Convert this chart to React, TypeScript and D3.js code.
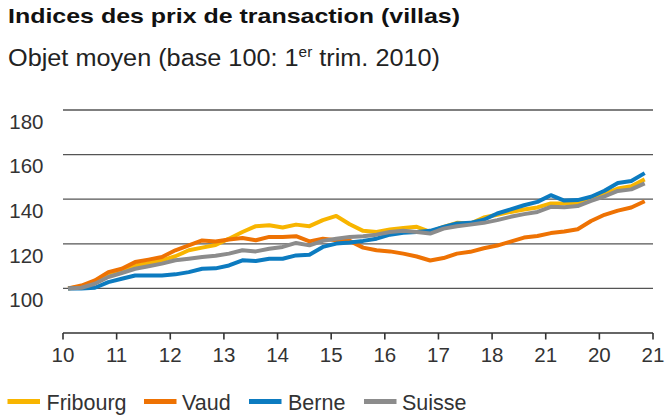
import React from "react";
import * as d3 from "d3";

const title = "Indices des prix de transaction (villas)";
const yearLabels = ["10", "11", "12", "13", "14", "15", "16", "17", "18", "21", "20", "21"];
const yTicks = [100, 120, 140, 160, 180];

const fribourg = [
  100, 100.9, 102.4, 105.8, 108.1, 110.3, 111.4, 112.6, 114.4, 117.1, 118.3, 119.5,
  122.3, 125.3, 127.9, 128.3, 127.3, 128.6, 127.9, 130.6, 132.5, 128.8, 125.8, 125.3,
  126.4, 127.1, 127.6, 125.3, 127.6, 129.4, 129.1, 131.8, 133.0, 134.3, 135.4, 136.3,
  138.1, 138.1, 138.3, 140.3, 142.5, 144.8, 145.8, 148.9,
];
const vaud = [
  100, 101.3, 103.6, 107.3, 108.8, 111.8, 112.9, 114.1, 117.1, 119.3, 121.5, 121.0,
  121.9, 122.6, 121.6, 123.1, 123.1, 123.4, 121.1, 122.3, 121.6, 121.3, 118.3, 117.1,
  116.6, 115.6, 114.3, 112.5, 113.6, 115.6, 116.4, 118.0, 119.2, 121.0, 122.8, 123.5,
  124.8, 125.5, 126.5, 130.2, 133.0, 134.9, 136.3, 139.1,
];
const berne = [
  100, 100, 100.3, 102.8, 104.3, 105.8, 105.8, 105.8, 106.3, 107.3, 108.8, 109.0,
  110.3, 112.6, 112.3, 113.3, 113.3, 114.8, 115.1, 118.6, 120.1, 120.6, 121.3, 122.3,
  124.1, 124.9, 125.3, 125.8, 127.6, 129.1, 129.4, 130.8, 133.6, 135.4, 137.3, 138.8,
  141.8, 139.4, 139.6, 141.1, 143.8, 147.3, 148.2, 151.7,
];
const suisse = [
  100, 100.3, 102.1, 105.1, 106.9, 108.8, 109.9, 111.1, 112.6, 113.3, 114.1, 114.6,
  115.6, 117.1, 116.6, 117.8, 118.6, 120.4, 119.3, 121.3, 122.3, 123.1, 123.4, 124.1,
  125.3, 125.8, 125.3, 124.6, 126.8, 127.9, 128.6, 129.4, 130.6, 132.1, 133.3, 134.3,
  136.6, 136.4, 136.9, 139.2, 141.3, 143.7, 144.4, 147.1,
];

const seriesNames = ["Fribourg", "Vaud", "Berne", "Suisse"];
const seriesValues = [fribourg, vaud, berne, suisse];
const seriesColors = ["#F8B500", "#EE7203", "#0C7BC0", "#8C8C8C"];

const W = 665;
const H = 418;
const FONT = "'Liberation Sans', Arial, Helvetica, sans-serif";

export default function App() {
  const x = d3.scaleLinear().domain([2010, 2021]).range([63, 653]);
  const y = d3.scaleLinear().domain([80, 180]).range([333, 110]);
  const t = (i: number) => 2010.095 + i * 0.25;
  const line = d3
    .line<number>()
    .x((_, i) => x(t(i)))
    .y((v) => y(v))
    .curve(d3.curveLinear);

  const xTicks = d3.range(2010, 2022);
  const legendX = [7.5, 144, 249, 364];
  const legendTextX = [46.5, 182, 288, 402];

  return (
    <svg
      width={W}
      height={H}
      style={{ position: "absolute", left: 0, top: 0, background: "#fff" }}
      fontFamily={FONT}
    >
      <text x={8} y={23.3} fontSize={21} fontWeight="bold" fill="#111" textLength={452} lengthAdjust="spacingAndGlyphs">
        {title}
      </text>
      <text x={8} y={66} fontSize={23} fill="#222" textLength={432} lengthAdjust="spacingAndGlyphs">
        Objet moyen (base 100: 1
        <tspan fontSize={14} dy={-9}>er</tspan>
        <tspan dy={9}> trim. 2010)</tspan>
      </text>

      {yTicks.map((v) => (
        <g key={v}>
          <line x1={63} x2={653} y1={y(v)} y2={y(v)} stroke="#555" strokeWidth={1.3} />
          <text x={43.5} y={y(v) + 18.7} fontSize={20.5} textAnchor="end" fill="#333">
            {v}
          </text>
        </g>
      ))}

      <line x1={63} x2={653} y1={y(80)} y2={y(80)} stroke="#333" strokeWidth={1.6} />
      {xTicks.map((v, i) => (
        <g key={v}>
          <line x1={x(v)} x2={x(v)} y1={y(80)} y2={y(80) + 6.5} stroke="#333" strokeWidth={1.6} />
          <text x={x(v)} y={362} fontSize={20.5} textAnchor="middle" fill="#333">
            {yearLabels[i]}
          </text>
        </g>
      ))}

      {seriesValues.map((vals, k) => (
        <path
          key={seriesNames[k]}
          d={line(vals) || ""}
          fill="none"
          stroke={seriesColors[k]}
          strokeWidth={4}
          strokeLinejoin="round"
        />
      ))}

      {seriesNames.map((name, k) => (
        <g key={name}>
          <line
            x1={legendX[k]}
            x2={legendX[k] + 32.5}
            y1={401.5}
            y2={401.5}
            stroke={seriesColors[k]}
            strokeWidth={5}
          />
          <text x={legendTextX[k]} y={410} fontSize={21.5} fill="#333">
            {name}
          </text>
        </g>
      ))}
    </svg>
  );
}
